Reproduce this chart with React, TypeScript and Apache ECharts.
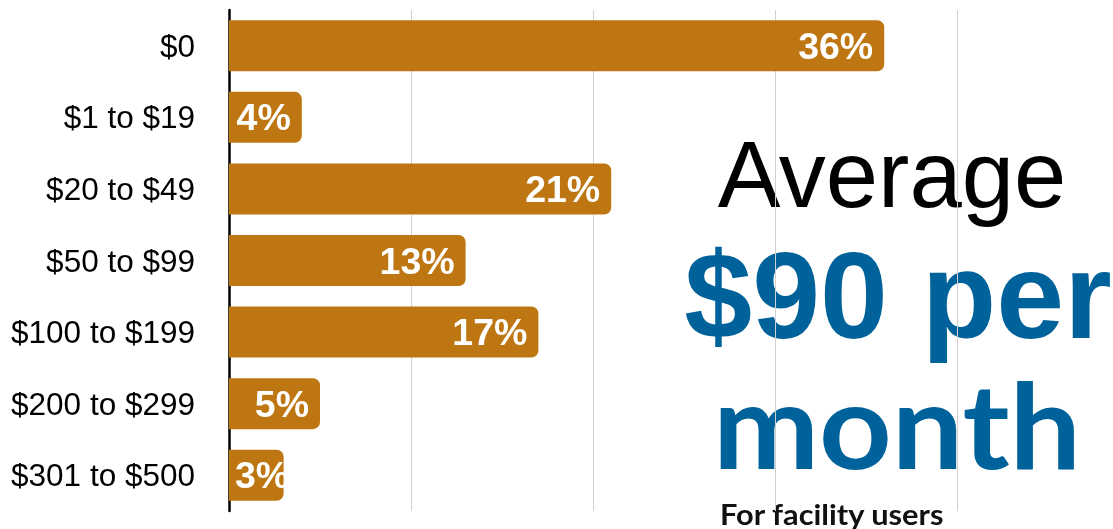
import React, { useEffect, useRef } from "react";
import * as echarts from "echarts";

const categories = ["$0", "$1 to $19", "$20 to $49", "$50 to $99", "$100 to $199", "$200 to $299", "$301 to $500"];
const shares = [36, 4, 21, 13, 17, 5, 3];
const headline = "Average";
const amountLine1 = "$90 per";
const amountLine2 = "month";
const footnote = "For facility users";

const BAR = "#BE7612";
const BLUE = "#00629B";

export default function App() {
  const ref = useRef<HTMLDivElement>(null);
  useEffect(() => {
    const chart = echarts.init(ref.current!, null, { renderer: "svg" });
    const data = shares.map((v) =>
      v <= 3
        ? { value: v, label: { position: "insideLeft", distance: 6 } }
        : { value: v }
    );
    chart.setOption({
      animation: false,
      grid: { left: 229, top: 10, right: 0, bottom: 18, containLabel: false },
      xAxis: {
        type: "value",
        min: 0,
        max: 48.57,
        interval: 10,
        axisLabel: { show: false },
        axisLine: { show: false },
        axisTick: { show: false },
        splitLine: { show: true, lineStyle: { color: "#d0d0d0", width: 1 } },
      },
      yAxis: {
        type: "category",
        data: categories,
        inverse: true,
        axisTick: { show: false },
        axisLine: { show: true, lineStyle: { color: "#000", width: 2.5 } },
        axisLabel: {
          margin: 34,
          color: "#000",
          fontSize: 31.5,
          fontFamily: "Liberation Sans, Arial, sans-serif",
        },
      },
      series: [
        {
          type: "bar",
          data,
          barWidth: 51,
          itemStyle: { color: BAR, borderRadius: [0, 7, 7, 0] },
          label: {
            show: true,
            position: "insideRight",
            distance: 11,
            formatter: "{c}%",
            color: "#fff",
            fontSize: 37.5,
            fontWeight: "bold",
            fontFamily: "Liberation Sans, Arial, sans-serif",
          },
        },
      ],
      graphic: [
        {
          type: "text",
          x: 892,
          y: 174,
          style: {
            text: headline,
            fill: "#000",
            font: "94px 'Liberation Sans', Arial, sans-serif",
            align: "center",
            verticalAlign: "middle",
          },
        },
        {
          type: "text",
          x: 898,
          y: 296,
          style: {
            text: amountLine1,
            fill: BLUE,
            font: "bold 122px 'Liberation Sans', Arial, sans-serif",
            align: "center",
            verticalAlign: "middle",
          },
        },
        {
          type: "text",
          x: 897,
          y: 423,
          scaleX: 1.074,
          style: {
            text: amountLine2,
            fill: BLUE,
            font: "bold 118px Lato, 'Open Sans', sans-serif",
            align: "center",
            verticalAlign: "middle",
          },
        },
        {
          type: "text",
          x: 720,
          y: 514,
          scaleX: 1.1,
          style: {
            text: footnote,
            fill: "#111",
            font: "bold 28px Lato, 'Open Sans', sans-serif",
            align: "left",
            verticalAlign: "middle",
          },
        },
      ],
    });
    return () => chart.dispose();
  }, []);
  return <div ref={ref} style={{ position: "fixed", left: 0, top: 0, width: 1113, height: 529 }} />;
}
